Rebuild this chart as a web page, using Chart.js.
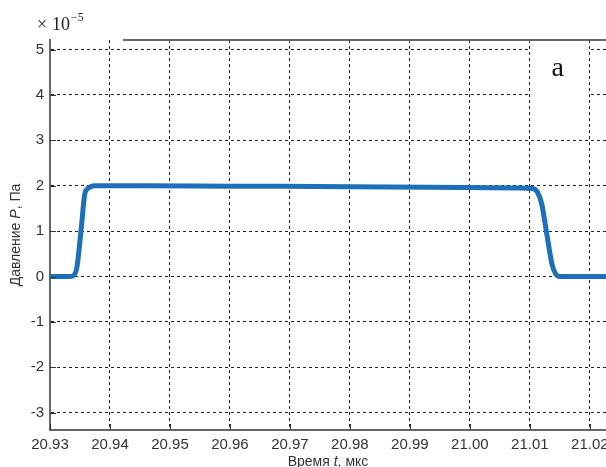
<!DOCTYPE html>
<html>
<head>
<meta charset="utf-8">
<script src="https://cdn.jsdelivr.net/npm/chart.js@4/dist/chart.umd.min.js"></script>
<style>
  html, body { margin: 0; padding: 0; background: #fff; }
  #wrap { width: 606px; height: 467px; position: relative; }
</style>
</head>
<body>
<div id="wrap"><canvas id="pressureChart"></canvas></div>
<script>
        // Time in microseconds (x) and pressure in units of 1e-5 Pa (y)
        let timeData = [20.93, 20.9333, 20.9340, 20.9345, 20.9352, 20.9358, 20.9363, 20.9368, 20.9375,
                        20.945, 20.96, 20.98, 21.00, 21.008, 21.0105, 21.0113, 21.0120, 21.0128,
                        21.0137, 21.0143, 21.0150, 21.020, 21.0227];
        let pressureData = [0, 0, 0.03, 0.22, 1.05, 1.82, 1.94, 1.98, 2.0,
                            2.0, 1.99, 1.98, 1.96, 1.95, 1.94, 1.85, 1.59, 0.96,
                            0.27, 0.06, 0, 0, 0];
        // Tick labels
        let xTicks = [20.93, 20.94, 20.95, 20.96, 20.97, 20.98, 20.99, 21.00, 21.01, 21.02];
        let yTicks = [-3, -2, -1, 0, 1, 2, 3, 4, 5];

        const axisFont = { family: "'Liberation Sans', Arial, sans-serif", size: 15 };

        // Extra drawing: inward ticks, partial top frame, exponent, titles, panel letter
        const decorations = {
            id: 'decorations',
            beforeDatasetsDraw(chart) {
                const ctx = chart.ctx;
                const x = chart.scales.x, y = chart.scales.y;
                // white box behind the panel letter
                ctx.save();
                ctx.fillStyle = '#fff';
                const bx1 = x.getPixelForValue(21.01) + 1.5;
                const bx2 = x.getPixelForValue(21.02) - 1.5;
                ctx.fillRect(bx1, chart.chartArea.top, bx2 - bx1, y.getPixelForValue(3.45) - chart.chartArea.top);
                ctx.restore();
            },
            afterDraw(chart) {
                const ctx = chart.ctx;
                const area = chart.chartArea;
                const x = chart.scales.x, y = chart.scales.y;
                ctx.save();
                // inward tick marks
                ctx.strokeStyle = '#333';
                ctx.lineWidth = 1;
                ctx.beginPath();
                xTicks.forEach(function (v) {
                    const px = Math.round(x.getPixelForValue(v)) + 0.5;
                    ctx.moveTo(px, area.bottom);
                    ctx.lineTo(px, area.bottom - 6);
                });
                yTicks.forEach(function (v) {
                    const py = Math.round(y.getPixelForValue(v)) + 0.5;
                    ctx.moveTo(area.left, py);
                    ctx.lineTo(area.left + 6, py);
                });
                ctx.stroke();

                // top frame (partly hidden in the original)
                ctx.strokeStyle = '#666';
                ctx.lineWidth = 2;
                ctx.beginPath();
                ctx.moveTo(123, area.top);
                ctx.lineTo(area.right, area.top);
                ctx.stroke();

                // exponent label
                ctx.fillStyle = '#222';
                ctx.textBaseline = 'alphabetic';
                ctx.textAlign = 'left';
                ctx.font = "18px 'Liberation Serif', 'Times New Roman', serif";
                ctx.fillText('\u00d7', 37, 30);
                ctx.fillText('10', 52, 30);
                const w10 = ctx.measureText('10').width;
                ctx.font = "12px 'Liberation Serif', 'Times New Roman', serif";
                ctx.fillText('\u22125', 52 + w10 + 1, 21);

                // panel letter
                ctx.font = "28px 'Liberation Serif', 'Times New Roman', serif";
                ctx.textAlign = 'center';
                ctx.textBaseline = 'middle';
                ctx.fillStyle = '#111';
                ctx.fillText('a', (x.getPixelForValue(21.01) + x.getPixelForValue(21.02)) / 2 - 2, 69);

                // axis titles with italic variable names
                ctx.fillStyle = '#333';
                drawMixed(ctx, [['Время ', false], ['t', true], [', мкс', false]],
                    (area.left + area.right) / 2, 462, 0);
                drawMixed(ctx, [['Давление ', false], ['P', true], [', Па', false]],
                    16, (area.top + area.bottom) / 2, -Math.PI / 2);
                ctx.restore();
            }
        };

        function drawMixed(ctx, parts, cx, cy, angle) {
            const fam = "'Liberation Sans', Arial, sans-serif";
            let total = 0;
            parts.forEach(function (p) {
                ctx.font = (p[1] ? 'italic ' : '') + '14px ' + fam;
                total += ctx.measureText(p[0]).width;
            });
            ctx.save();
            ctx.translate(cx, cy);
            ctx.rotate(angle);
            ctx.textAlign = 'left';
            ctx.textBaseline = 'middle';
            let pos = -total / 2;
            parts.forEach(function (p) {
                ctx.font = (p[1] ? 'italic ' : '') + '14px ' + fam;
                ctx.fillText(p[0], pos, 0);
                pos += ctx.measureText(p[0]).width;
            });
            ctx.restore();
        }

        function drawChart() {
            var ctx = document.getElementById('pressureChart').getContext('2d');
            var points = timeData.map(function (t, i) { return { x: t, y: pressureData[i] }; });
            new Chart(ctx, {
                type: 'line',
                data: {
                    datasets: [{
                        data: points,
                        borderColor: '#1c6fb8',
                        borderWidth: 5,
                        pointRadius: 0,
                        cubicInterpolationMode: 'monotone',
                        fill: false
                    }]
                },
                options: {
                    responsive: true,
                    maintainAspectRatio: false,
                    animation: false,
                    layout: { padding: { top: 40, right: 0, left: 0, bottom: 0 } },
                    plugins: { legend: { display: false }, tooltip: { enabled: false } },
                    scales: {
                        x: {
                            type: 'linear',
                            min: 20.93,
                            max: 21.0227,
                            afterBuildTicks: function (scale) {
                                scale.ticks = xTicks.map(function (v) { return { value: v }; });
                            },
                            afterFit: function (scale) {
                                scale.height = 37;
                                scale.paddingLeft = 0;
                                scale.paddingRight = 0;
                            },
                            ticks: {
                                autoSkip: false,
                                maxRotation: 0,
                                padding: 6,
                                color: '#333',
                                font: axisFont,
                                callback: function (v) { return Number(v).toFixed(2); }
                            },
                            grid: { color: '#222', lineWidth: 1, drawTicks: false },
                            border: { color: '#666', width: 2, dash: [3, 3] }
                        },
                        y: {
                            min: -3.38,
                            max: 5.21,
                            afterBuildTicks: function (scale) {
                                scale.ticks = yTicks.map(function (v) { return { value: v }; });
                            },
                            afterFit: function (scale) {
                                scale.width = 50;
                                scale.paddingTop = 0;
                                scale.paddingBottom = 0;
                            },
                            ticks: {
                                padding: 6,
                                color: '#333',
                                font: axisFont,
                                callback: function (v) { return String(v); }
                            },
                            grid: { color: '#222', lineWidth: 1, drawTicks: false },
                            border: { color: '#666', width: 2, dash: [3, 3] }
                        }
                    }
                },
                plugins: [decorations]
            });
        }

        drawChart();
</script>
</body>
</html>
